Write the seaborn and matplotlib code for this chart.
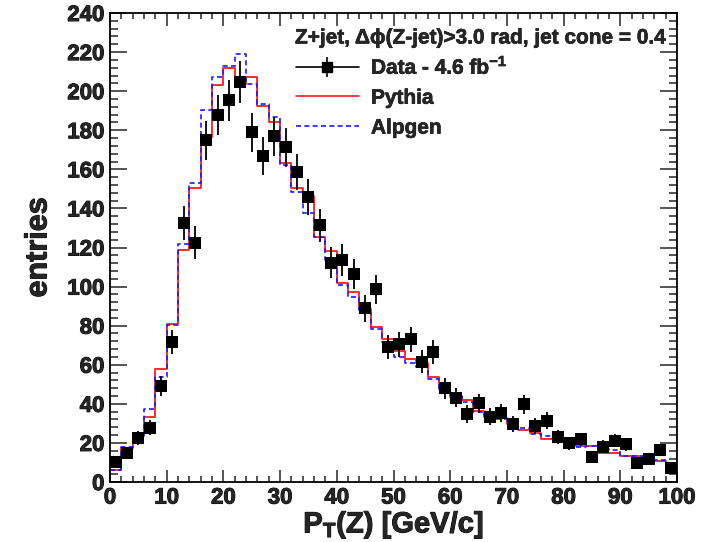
import numpy as np
import pandas as pd
import matplotlib
matplotlib.use("Agg")
import matplotlib.pyplot as plt
import matplotlib.patheffects as pe
import seaborn as sns
from matplotlib.lines import Line2D
from matplotlib.ticker import MultipleLocator

# bins: 50 bins of 2 GeV/c from 0 to 100
bin_edges = list(range(0, 102, 2))

data_counts = [10.1, 14.7, 22.5, 27.8, 49.1, 71.6, 132.6, 122.5, 174.9, 187.7,
               195.4, 204.5, 178.9, 166.9, 177.0, 171.2, 158.6, 145.9, 131.3, 112.2,
               113.6, 106.4, 88.8, 98.6, 69.2, 70.4, 73.0, 61.5, 66.6, 47.9,
               43.1, 34.8, 40.3, 33.4, 35.4, 29.5, 39.7, 28.8, 31.4, 22.9,
               19.8, 21.8, 12.9, 18.1, 21.1, 19.3, 9.6, 11.6, 16.4, 7.3]
data_errors = [2.4, 2.9, 3.6, 4.0, 5.3, 6.3, 8.6, 8.3, 9.9, 10.3,
               10.5, 10.7, 10.0, 9.7, 10.0, 9.8, 9.4, 9.1, 8.6, 7.9,
               8.0, 7.7, 7.1, 7.4, 6.2, 6.3, 6.4, 5.9, 6.1, 5.2,
               4.9, 4.4, 4.8, 4.3, 4.5, 4.1, 4.7, 4.0, 4.2, 3.6,
               3.3, 3.5, 2.7, 3.2, 3.4, 3.3, 2.3, 2.6, 3.0, 2.0]
pythia = [6.1, 17.2, 24.6, 33.1, 57.6, 80.8, 118.7, 150.2, 176.6, 203.4,
          212.1, 203.9, 207.3, 192.3, 184.0, 163.0, 150.2, 146.3, 125.5, 118.3,
          101.9, 97.3, 88.3, 79.4, 73.3, 67.2, 62.8, 61.0, 53.6, 47.4,
          43.6, 41.9, 36.5, 33.1, 32.6, 29.7, 26.6, 24.9, 21.8, 21.8,
          18.9, 18.6, 18.6, 14.7, 14.7, 13.5, 13.5, 11.6, 10.9, 9.6]
alpgen = [6.1, 18.1, 23.5, 37.2, 53.9, 80.3, 121.7, 153.1, 190.3, 207.0,
          212.8, 218.8, 203.6, 193.2, 186.9, 162.1, 148.5, 137.4, 125.2, 113.6,
          100.8, 94.8, 86.6, 78.1, 71.8, 63.8, 60.7, 59.0, 52.5, 47.1,
          44.0, 41.1, 36.0, 34.3, 32.1, 29.7, 27.5, 24.4, 23.5, 22.7,
          19.4, 17.7, 18.6, 16.7, 16.4, 13.5, 13.3, 12.6, 11.3, 9.9]

centers = [(a + b) / 2 for a, b in zip(bin_edges[:-1], bin_edges[1:])]
df = pd.DataFrame({"pt": centers, "data": data_counts, "err": data_errors,
                   "pythia": pythia, "alpgen": alpgen})

sns.set_style("ticks")
plt.rcParams["font.family"] = ["Liberation Sans", "DejaVu Sans"]
plt.rcParams["font.weight"] = "bold"
plt.rcParams["mathtext.fontset"] = "custom"
plt.rcParams["mathtext.rm"] = "Liberation Sans:bold"
plt.rcParams["mathtext.it"] = "Liberation Sans:bold"
plt.rcParams["mathtext.bf"] = "Liberation Sans:bold"

heavy = [pe.withStroke(linewidth=0.7, foreground="black")]

fig = plt.figure(figsize=(7.06, 5.42), dpi=100)
ax = fig.add_axes([110 / 706, 1 - 482 / 542, 567 / 706, 469 / 542])

# MC histograms
sns.histplot(data=df, x="pt", weights="pythia", bins=bin_edges, element="step",
             fill=False, color="#ff1a1a", linewidth=1.3, ax=ax)
sns.histplot(data=df, x="pt", weights="alpgen", bins=bin_edges, element="step",
             fill=False, color="#1a1aff", linewidth=1.2, linestyle=(0, (3, 2)), ax=ax)

# data points with errors
ax.errorbar(df["pt"], df["data"], yerr=df["err"], xerr=1.0, fmt="none",
            ecolor="black", elinewidth=1.3, capsize=0, zorder=3)
sns.scatterplot(data=df, x="pt", y="data", marker="s", s=64, color="black",
                edgecolor="black", linewidth=0, ax=ax, zorder=4)

ax.set_xlim(0, 100)
ax.set_ylim(0, 240)
ax.xaxis.set_major_locator(MultipleLocator(10))
ax.xaxis.set_minor_locator(MultipleLocator(2))
ax.yaxis.set_major_locator(MultipleLocator(20))
ax.yaxis.set_minor_locator(MultipleLocator(4))
ax.tick_params(axis="both", which="both", direction="in", top=True, right=True,
               labelsize=16, width=1.1, pad=4)
ax.tick_params(axis="x", which="major", length=9)
ax.tick_params(axis="x", which="minor", length=4.5)
ax.tick_params(axis="y", which="major", length=12)
ax.tick_params(axis="y", which="minor", length=5.5)
for lab in ax.get_xticklabels() + ax.get_yticklabels():
    lab.set_fontweight("bold")
    lab.set_path_effects(heavy)
for sp in ax.spines.values():
    sp.set_linewidth(1.3)
    sp.set_color("black")

ax.set_xlabel("P$_{\\mathrm{T}}$(Z) [GeV/c]", fontsize=21, fontweight="bold", labelpad=0,
              path_effects=heavy)
ax.set_ylabel("entries", fontsize=22, fontweight="bold", labelpad=10,
              path_effects=heavy)

ax.text(295 / 706, 1 - 38 / 542, "Z+jet, \u0394\u03d5(Z-jet)>3.0 rad, jet cone = 0.4",
        transform=fig.transFigure, fontsize=15, fontweight="bold", va="center", ha="left",
        path_effects=[pe.withStroke(linewidth=0.4, foreground="black")])

h_data = (Line2D([0], [0], color="black", lw=1.2),
          Line2D([0], [0], color="black", marker="|", markersize=14, lw=0, markeredgewidth=1.2),
          Line2D([0], [0], color="black", marker="s", markersize=7, lw=0))
h_py = Line2D([0], [0], color="#ff1a1a", lw=1.2)
h_al = Line2D([0], [0], color="#1a1aff", lw=1.2, linestyle=(0, (3, 2)))
leg = fig.legend([h_data, h_py, h_al], ["Data - 4.6 fb$^{-1}$", "Pythia", "Alpgen"],
                 loc="upper left", bbox_to_anchor=(296 / 706, 1 - 56 / 542),
                 frameon=False, fontsize=15, handlelength=3.0, handletextpad=0.6,
                 labelspacing=0.52, borderpad=0, borderaxespad=0)
for t in leg.get_texts():
    t.set_path_effects([pe.withStroke(linewidth=0.4, foreground="black")])

fig.savefig("out.png", dpi=100)
